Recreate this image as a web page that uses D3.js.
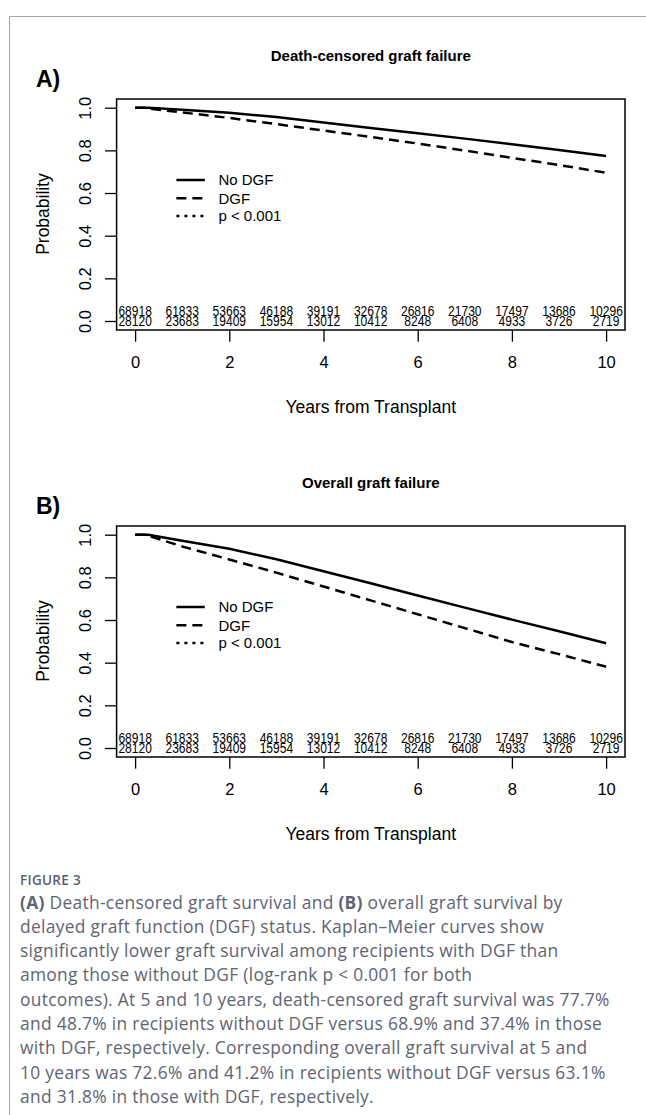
<!DOCTYPE html>
<html>
<head>
<meta charset="utf-8">
<script src="https://cdn.jsdelivr.net/npm/d3@7"></script>
<style>
  html, body { margin: 0; padding: 0; background: #fff; }
  svg { display: block; }
</style>
</head>
<body>
<svg id="chart" width="646" height="1115"></svg>
<script>
// ---------------- DATA ----------------
const xTickValues = [0, 2, 4, 6, 8, 10];
const yTickValues = [0, 0.2, 0.4, 0.6, 0.8, 1.0];
const yTickLabels = ["0.0", "0.2", "0.4", "0.6", "0.8", "1.0"];

const riskTimes = [0, 1, 2, 3, 4, 5, 6, 7, 8, 9, 10];
const riskNoDGF = [68918, 61833, 53663, 46188, 39191, 32678, 26816, 21730, 17497, 13686, 10296];
const riskDGF   = [28120, 23683, 19409, 15954, 13012, 10412, 8248, 6408, 4933, 3726, 2719];

// Panel A: death-censored graft failure (survival probability)
const timesA      = [0, 0.28, 1, 2, 3, 4, 5, 6, 7, 8, 9, 10];
const noDgfA      = [1.0, 1.0, 0.990, 0.976, 0.956, 0.931, 0.905, 0.880, 0.855, 0.829, 0.802, 0.774];
const timesADgf   = [0, 0.2, 0.5, 1, 2, 3, 4, 5, 6, 7, 8, 9, 10];
const dgfA        = [1.0, 1.0, 0.990, 0.978, 0.952, 0.923, 0.893, 0.863, 0.832, 0.799, 0.765, 0.731, 0.695];

// Panel B: overall graft failure
const timesB      = [0, 0.28, 1, 2, 3, 4, 5, 6, 7, 8, 9, 10];
const noDgfB      = [1.0, 1.0, 0.972, 0.934, 0.885, 0.829, 0.772, 0.715, 0.658, 0.602, 0.547, 0.491];
const timesBDgf   = [0, 0.2, 0.5, 1, 2, 3, 4, 5, 6, 7, 8, 9, 10];
const dgfB        = [1.0, 1.0, 0.980, 0.945, 0.884, 0.822, 0.757, 0.692, 0.627, 0.562, 0.497, 0.440, 0.381];

const legendLabels = ["No DGF", "DGF", "p < 0.001"];
const panelTitles = ["Death-censored graft failure", "Overall graft failure"];
const panelLetters = ["A)", "B)"];
const xAxisTitle = "Years from Transplant";
const yAxisTitle = "Probability";

const captionHead = "FIGURE 3";
const captionLines = [
  [["(A)", true], [" Death-censored graft survival and ", false], ["(B)", true], [" overall graft survival by", false]],
  [["delayed graft function (DGF) status. Kaplan\u2013Meier curves show", false]],
  [["significantly lower graft survival among recipients with DGF than", false]],
  [["among those without DGF (log-rank p < 0.001 for both", false]],
  [["outcomes). At 5 and 10 years, death-censored graft survival was 77.7%", false]],
  [["and 48.7% in recipients without DGF versus 68.9% and 37.4% in those", false]],
  [["with DGF, respectively. Corresponding overall graft survival at 5 and", false]],
  [["10 years was 72.6% and 41.2% in recipients without DGF versus 63.1%", false]],
  [["and 31.8% in those with DGF, respectively.", false]]
];

// ---------------- DRAW ----------------
const svg = d3.select("#chart");
const FONT = "'Liberation Sans', Arial, Helvetica, sans-serif";

svg.append("rect").attr("width", 646).attr("height", 1115).attr("fill", "#fff");

// outer frame
svg.append("path")
  .attr("d", "M646,16.5 H9.5 V1115")
  .attr("fill", "none").attr("stroke", "#a0a4b4").attr("stroke-width", 1);

const boxL = 116.6, boxR = 625, boxTop = 99, boxBot = 330;

function drawPanel(offY, idx, tNo, sNo, tD, sD) {
  const g = svg.append("g").attr("transform", `translate(0,${offY})`);
  const x = d3.scaleLinear().domain([0, 10]).range([135.1, 606.1]);
  const y = d3.scaleLinear().domain([0, 1]).range([321, 107.7]);

  // title
  g.append("text").attr("x", (boxL + boxR) / 2).attr("y", 61)
    .attr("text-anchor", "middle").attr("font-family", FONT)
    .attr("font-weight", "bold").attr("font-size", 15).text(panelTitles[idx]);
  // letter
  g.append("text").attr("x", 36).attr("y", 87)
    .attr("font-family", FONT).attr("font-weight", "bold").attr("font-size", 23)
    .text(panelLetters[idx]);

  // x axis
  const xa = g.append("g").attr("transform", `translate(0,${boxBot})`)
    .call(d3.axisBottom(x).tickValues(xTickValues).tickSize(11.7).tickSizeOuter(0).tickFormat(d3.format("d")));
  xa.select(".domain").remove();
  xa.selectAll(".tick line").attr("stroke", "#000").attr("stroke-width", 1.3);
  xa.selectAll(".tick text").attr("y", 26.5).attr("dy", "0.71em")
    .attr("font-family", FONT).attr("font-size", 16.5).attr("fill", "#000");

  // y axis
  const ya = g.append("g").attr("transform", `translate(${boxL},0)`)
    .call(d3.axisLeft(y).tickValues(yTickValues).tickSize(11.6).tickSizeOuter(0)
      .tickFormat((d, i) => yTickLabels[i]));
  ya.select(".domain").remove();
  ya.selectAll(".tick line").attr("stroke", "#000").attr("stroke-width", 1.3);
  ya.selectAll(".tick text")
    .attr("x", 0).attr("dy", 0)
    .attr("transform", "translate(-26,0) rotate(-90)")
    .attr("text-anchor", "middle")
    .attr("font-family", FONT).attr("font-size", 16.5).attr("fill", "#000");

  // axis titles
  g.append("text").attr("x", (boxL + boxR) / 2).attr("y", 412.5)
    .attr("text-anchor", "middle").attr("font-family", FONT).attr("font-size", 17.5)
    .text(xAxisTitle);
  g.append("text").attr("transform", `translate(49,214) rotate(-90)`)
    .attr("text-anchor", "middle").attr("font-family", FONT).attr("font-size", 17.5)
    .text(yAxisTitle);

  // curves
  const line = d3.line().x(d => x(d[0])).y(d => y(d[1])).curve(d3.curveLinear);
  g.append("path").datum(tNo.map((t, i) => [t, sNo[i]]))
    .attr("d", line).attr("fill", "none").attr("stroke", "#000").attr("stroke-width", 2.5);
  g.append("path").datum(tD.map((t, i) => [t, sD[i]]))
    .attr("d", line).attr("fill", "none").attr("stroke", "#000").attr("stroke-width", 2.5)
    .attr("stroke-dasharray", "10,6");

  // box
  g.append("rect").attr("x", boxL).attr("y", boxTop)
    .attr("width", boxR - boxL).attr("height", boxBot - boxTop)
    .attr("fill", "none").attr("stroke", "#000").attr("stroke-width", 1.5);

  // legend
  const legRows = [180, 198.3, 216];
  const dashes = [null, "10,6", "3,5"];
  legendLabels.forEach((lab, i) => {
    g.append("line").attr("x1", 176.4).attr("x2", 204.8)
      .attr("y1", legRows[i]).attr("y2", legRows[i])
      .attr("stroke", "#000").attr("stroke-width", 2.5)
      .attr("stroke-dasharray", dashes[i]);
    g.append("text").attr("x", 218.4).attr("y", legRows[i] + 5.4)
      .attr("font-family", FONT).attr("font-size", 15).text(lab);
  });

  // risk table
  const rows = [[riskNoDGF, 316], [riskDGF, 326.3]];
  rows.forEach(([vals, by]) => {
    g.selectAll(null).data(riskTimes).enter().append("text")
      .attr("transform", (d) => `translate(${x(d)},${by}) scale(0.83,1)`)
      .attr("text-anchor", "middle")
      .attr("font-family", FONT).attr("font-size", 14.5)
      .text((d, i) => vals[i]);
  });
}

drawPanel(0, 0, timesA, noDgfA, timesADgf, dgfA);
drawPanel(427, 1, timesB, noDgfB, timesBDgf, dgfB);

// caption
const CAP = "'Open Sans', 'Noto Sans', sans-serif";
svg.append("text").attr("x", 20).attr("y", 885)
  .attr("font-family", CAP).attr("font-size", 13.5).attr("font-weight", 600)
  .attr("fill", "#5b6070").attr("letter-spacing", 0.3).text(captionHead);

captionLines.forEach((parts, i) => {
  const t = svg.append("text").attr("x", 20).attr("y", 908.5 + i * 24.3)
    .attr("font-family", CAP).attr("font-size", 17.4).attr("fill", "#5f6474")
    .attr("letter-spacing", 0.3);
  parts.forEach(([s, b]) => {
    t.append("tspan").attr("font-weight", b ? 700 : 400).text(s);
  });
});
</script>
</body>
</html>
